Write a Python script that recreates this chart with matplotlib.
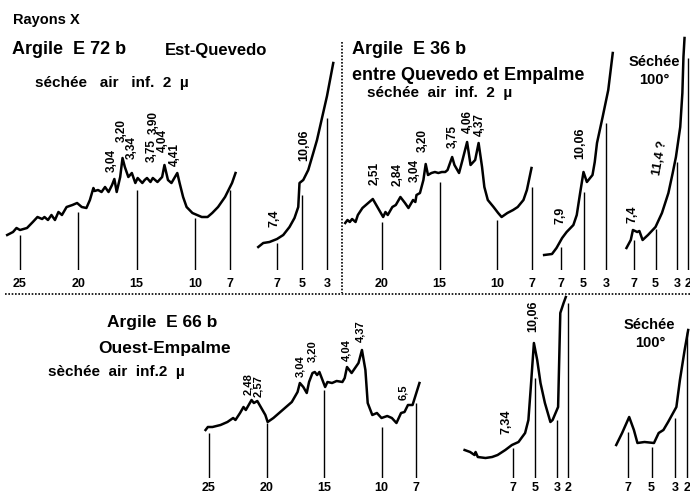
import matplotlib.pyplot as plt
import numpy as np

plt.rcParams['font.family'] = ['Liberation Sans', 'DejaVu Sans']

W, H = 690, 495

# X-ray traces: x = angle (deg), y = intensity (arbitrary units)
# Argile E 72 b, dried in air
a_x = [26.1, 25.6, 25.3, 25.0, 24.4, 23.9, 23.5, 23.1, 22.9, 22.6, 22.3, 22.0, 21.7, 21.4,
       21.0, 20.5, 20.1, 19.7, 19.3, 19.0, 18.7, 18.6, 18.3, 18.0, 17.7, 17.4, 17.1, 16.9,
       16.7, 16.4, 16.2, 16.0, 15.7, 15.4, 15.1, 14.9, 14.5, 14.3, 14.1, 13.8, 13.6, 13.2,
       12.8, 12.6, 12.3, 12.0, 11.5, 11.3, 11.0, 10.7, 10.2, 9.8, 9.4, 8.9, 8.5, 8.0, 7.4,
       6.8, 6.5]
a_y = [35, 38, 42, 40, 42, 48, 53, 51, 53, 50, 55, 50, 58, 55, 63, 65, 67, 63, 62, 70, 82,
       79, 80, 78, 83, 78, 85, 91, 78, 93, 112, 103, 93, 97, 87, 92, 87, 90, 92, 88, 92, 88,
       93, 105, 90, 87, 97, 87, 73, 63, 57, 55, 53, 53, 57, 63, 73, 87, 97]
a_ticks = [25, 20, 15, 10, 7]
a_tick_h = [35, 58, 80, 52, 80]
a_peaks = ["3,04", "3,20", "3,34", "3,75", "3,90", "4,04", "4,41"]

a2_x = [8.5, 8.1, 7.6, 7.0, 6.5, 6.0, 5.6, 5.3, 5.2, 4.9, 4.5, 4.1, 3.8, 3.4, 3.0, 2.5]
a2_y = [23, 27, 28, 31, 35, 43, 52, 63, 87, 90, 100, 117, 130, 152, 174, 207]
a2_ticks = [7, 5, 3]
a2_tick_h = [27, 75, 152]
a2_peaks = ["7,4", "10,06"]

# Argile E 36 b
b_x = [23.2, 23.0, 22.8, 22.6, 22.3, 22.1, 21.7, 21.2, 20.8, 20.4, 19.9, 19.7, 19.5, 19.1,
       18.8, 18.4, 18.0, 17.7, 17.3, 17.1, 17.0, 16.7, 16.4, 16.2, 16.0, 15.7, 15.4, 15.1,
       14.8, 14.5, 14.3, 13.9, 13.7, 13.3, 13.0, 12.6, 12.3, 11.9, 11.6, 11.3, 11.1, 10.8,
       10.3, 9.9, 9.6, 9.1, 8.6, 8.2, 7.7, 7.4, 7.0]
b_y = [47, 50, 48, 51, 48, 55, 62, 67, 71, 63, 53, 58, 55, 63, 65, 73, 67, 62, 70, 68, 75,
       77, 90, 106, 95, 97, 98, 97, 98, 98, 100, 113, 105, 97, 110, 128, 105, 110, 127, 103,
       83, 70, 63, 57, 53, 57, 60, 63, 70, 80, 102]
b_ticks = [20, 15, 10, 7]
b_tick_h = [48, 88, 50, 83]
b_peaks = ["2,51", "2,84", "3,04", "3,20", "3,75", "4,06", "4,37"]

b2_x = [8.5, 7.8, 7.4, 6.9, 6.5, 5.9, 5.6, 5.3, 5.0, 4.7, 4.2, 4.0, 3.8, 3.3, 2.8, 2.4]
b2_y = [15, 16, 22, 32, 38, 45, 55, 77, 98, 88, 95, 108, 127, 153, 180, 217]
b2_ticks = [7, 5, 3]
b2_tick_h = [23, 78, 147]
b2_peaks = ["7,9", "10,06"]

b3_x = [7.7, 7.3, 7.1, 6.7, 6.5, 6.2, 5.7, 5.0, 4.4, 3.8, 3.4, 3.1, 2.7, 2.5, 2.4, 2.3]
b3_y = [22, 30, 40, 38, 39, 30, 35, 43, 57, 77, 97, 113, 143, 177, 213, 232]
b3_ticks = [7, 5, 3, 2]
b3_tick_h = [30, 41, 108, 212]
b3_peaks = ["7,4", "11,4 ?"]

# Argile E 66 b
c_x = [25.3, 25.1, 24.7, 24.0, 23.4, 22.9, 22.7, 22.3, 22.0, 21.8, 21.3, 21.1, 20.8, 20.6,
       20.1, 19.9, 19.4, 18.6, 17.8, 17.3, 17.1, 16.8, 16.5, 16.3, 16.0, 15.8, 15.6, 15.4,
       15.2, 14.9, 14.7, 14.3, 13.9, 13.4, 13.2, 13.0, 12.6, 12.3, 12.0, 11.7, 11.4, 11.2,
       10.8, 10.4, 10.0, 9.5, 9.1, 8.7, 8.3, 8.0, 7.7, 7.3, 6.7]
c_y = [48, 51, 51, 53, 56, 60, 58, 65, 71, 68, 78, 75, 77, 73, 63, 56, 60, 68, 76, 86, 95,
       91, 85, 96, 105, 106, 103, 106, 100, 91, 96, 95, 97, 96, 100, 111, 105, 110, 115, 128,
       108, 75, 63, 65, 60, 62, 60, 55, 65, 66, 73, 73, 95]
c_ticks = [25, 20, 15, 10, 7]
c_tick_h = [45, 55, 88, 51, 75]
c_peaks = ["2,48", "2,57", "3,04", "3,20", "4,04", "4,37", "6,5"]

c2_x = [11.4, 10.9, 10.5, 10.4, 10.2, 9.5, 8.9, 8.4, 7.7, 7.1, 6.5, 5.9, 5.6, 5.4, 5.1,
        4.8, 4.5, 4.1, 3.6, 3.4, 2.9, 2.7, 2.4, 2.2]
c2_y = [28, 26, 23, 26, 21, 20, 21, 23, 28, 33, 36, 45, 58, 88, 135, 118, 95, 75, 56, 58,
        71, 165, 175, 181]
c2_ticks = [7, 5, 3, 2]
c2_tick_h = [30, 100, 58, 175]
c2_peaks = ["7,34", "10,06"]

c3_x = [8.0, 7.5, 6.9, 6.5, 6.2, 5.6, 4.8, 4.4, 4.0, 3.6, 2.9, 2.6, 2.2, 1.9]
c3_y = [33, 45, 61, 48, 35, 36, 35, 45, 48, 56, 71, 98, 128, 148]
c3_ticks = [7, 5, 3, 2]
c3_tick_h = [46, 31, 60, 146]

fig = plt.figure(figsize=(W / 100, H / 100), dpi=100)
bg = fig.add_axes([0, 0, 1, 1])
bg.set_xlim(0, W)
bg.set_ylim(H, 0)
bg.axis('off')


def panel(px_l, px_r, base, ref_px, ref_d, ppd, top=250):
    ax = fig.add_axes([px_l / W, (H - base) / H, (px_r - px_l) / W, top / H])
    ax.set_xlim(ref_d + (ref_px - px_l) / ppd, ref_d - (px_r - ref_px) / ppd)
    ax.set_ylim(0, top)
    ax.axis('off')
    ax.set_facecolor('none')
    return ax


def draw(ax, x, y, ticks, tick_h, lab_off):
    ax.plot(x, y, color='k', lw=1.8, clip_on=False)
    ax.vlines(ticks, 0, tick_h, color='k', lw=1.0)
    for t in ticks:
        ax.text(t, -lab_off, str(t), ha='center', va='center', fontsize=9,
                fontweight='bold', clip_on=False)


def peak_labels(labels, pos, rot=90, size=8.5):
    for s, (px, py) in zip(labels, pos):
        bg.text(px, py, s, rotation=rot, ha='center', va='center', fontsize=size,
                fontweight='bold')


draw(panel(0, 245, 270, 20, 25, 11.65), a_x, a_y, a_ticks, a_tick_h, 14)
draw(panel(250, 340, 270, 277, 7, 12.5), a2_x, a2_y, a2_ticks, a2_tick_h, 14)
draw(panel(343, 540, 270, 382, 20, 11.5), b_x, b_y, b_ticks, b_tick_h, 14)
draw(panel(540, 620, 270, 561, 7, 11.25), b2_x, b2_y, b2_ticks, b2_tick_h, 14)
draw(panel(620, 690, 270, 634, 7, 10.75), b3_x, b3_y, b3_ticks, b3_tick_h, 14)
draw(panel(195, 430, 478, 209, 25, 11.5), c_x, c_y, c_ticks, c_tick_h, 10)
draw(panel(455, 580, 478, 513, 7, 11), c2_x, c2_y, c2_ticks, c2_tick_h, 10)
draw(panel(605, 690, 478, 628, 7, 11.8), c3_x, c3_y, c3_ticks, c3_tick_h, 10)

peak_labels(a_peaks, [(112, 161), (122, 131), (132, 148), (152, 150), (154, 122),
                      (163, 141), (175, 155)])
peak_labels(a2_peaks, [(275, 218), (304, 145)], size=9)
peak_labels(b_peaks, [(375, 173), (398, 175), (415, 170), (423, 140), (453, 136),
                      (468, 122), (480, 125)])
peak_labels(b2_peaks, [(560, 215), (580, 143)], size=9)
peak_labels(b3_peaks[:1], [(632, 214)], size=9)
peak_labels(b3_peaks[1:], [(660, 158)], rot=80, size=9)
peak_labels(c_peaks, [(248, 384), (258, 386), (300, 366), (312, 351), (346, 350),
                      (360, 331), (403, 392)], size=8)
peak_labels(c2_peaks, [(507, 422), (533, 316)], size=9)

# separators
bg.plot([342, 342], [42, 293], color='k', lw=1.2, ls=(0, (1, 1)))
bg.plot([5, 690], [294, 294], color='k', lw=1.2, ls=(0, (1, 1)))

# titles
bold = dict(fontweight='bold', va='center', ha='left')
bg.text(13, 20, "Rayons X", fontsize=10.5, **bold)
bg.text(12, 50, "Argile  E 72 b", fontsize=13, **bold)
bg.text(165, 50, "Est-Quevedo", fontsize=12, **bold)
bg.text(35, 83, "séchée   air   inf.  2  µ", fontsize=11, **bold)
bg.text(352, 49, "Argile  E 36 b", fontsize=13, **bold)
bg.text(352, 75, "entre Quevedo et Empalme", fontsize=13, **bold)
bg.text(367, 93, "séchée  air  inf.  2  µ", fontsize=11, **bold)
bg.text(654, 62, "Séchée", fontsize=10.5, fontweight='bold', ha='center', va='center')
bg.text(654, 80, "100°", fontsize=10.5, fontweight='bold', ha='center', va='center')
bg.text(107, 323, "Argile  E 66 b", fontsize=12.5, **bold)
bg.text(98, 348, "Ouest-Empalme", fontsize=12.5, **bold)
bg.text(48, 372, "sèchée  air  inf.2  µ", fontsize=11, **bold)
bg.text(649, 325, "Séchée", fontsize=10.5, fontweight='bold', ha='center', va='center')
bg.text(650, 343, "100°", fontsize=10.5, fontweight='bold', ha='center', va='center')

fig.savefig("out.png", dpi=100)
